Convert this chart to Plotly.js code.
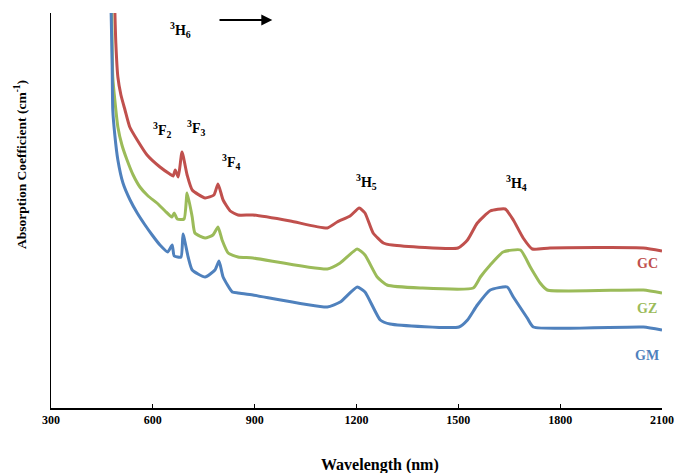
<!DOCTYPE html>
<html>
<head>
<meta charset="utf-8">
<script src="https://cdn.plot.ly/plotly-3.0.1.min.js"></script>
<style>html,body{margin:0;padding:0;background:#fff;}#chart{width:677px;height:473px;}</style>
</head>
<body>
<div id="chart"></div>
<script>
// Wavelength (nm) and absorption coefficient (arbitrary units)
const gcWavelength = [488,491,497,506,518,532,554,583,621,650,660,666,675,686,701,716,754,780,792,807,828,851,895,1005,1114,1143,1181,1208,1225,1249,1279,1305,1499,1527,1556,1594,1638,1662,1691,1718,1770,2045,2100];
const gcAbsorption = [40.0,36.7,33.3,31.5,30.0,28.3,27.0,25.5,24.3,23.6,23.4,24.0,23.3,25.8,23.5,22.0,21.2,21.5,22.6,21.0,19.9,19.5,19.5,18.9,18.2,18.8,19.4,20.2,19.7,17.7,16.7,16.5,16.2,17.0,18.7,19.9,20.1,19.0,17.2,16.1,16.2,16.2,15.9];

const gzWavelength = [479,482,488,497,509,524,542,562,586,612,636,656,663,672,692,701,716,724,754,777,792,804,822,851,895,1114,1152,1202,1225,1261,1290,1388,1544,1565,1594,1632,1683,1712,1741,1762,2045,2100];
const gzAbsorption = [40.0,33.3,31.0,28.3,26.5,25.0,23.5,22.3,21.4,20.7,19.9,19.3,19.7,19.1,19.1,21.7,19.3,17.7,17.2,17.5,18.3,17.0,15.7,15.3,15.2,14.1,14.7,16.1,15.5,13.3,12.5,12.2,12.2,13.3,14.5,15.8,16.0,14.3,12.7,12.0,12.0,11.7];

const gmWavelength = [477,480,482,488,497,512,533,554,577,598,621,644,657,663,683,689,704,716,754,783,795,807,834,851,895,1114,1152,1202,1225,1270,1299,1502,1527,1556,1594,1644,1662,1703,1721,2045,2100];
const gmAbsorption = [40.0,35.0,30.0,27.5,25.0,22.7,21.0,19.7,18.5,17.5,16.5,15.8,16.5,15.4,15.3,17.6,15.3,14.0,13.3,14.0,14.9,13.3,11.8,11.7,11.5,10.3,10.8,12.3,11.8,9.0,8.6,8.3,9.0,10.5,12.0,12.3,11.3,9.2,8.3,8.3,8.0];

const xTickValues = [300,600,900,1200,1500,1800,2100];
const seriesNames = ["GC","GZ","GM"];
const levelLabels = ["<sup>3</sup>H<sub>6</sub>","<sup>3</sup>F<sub>2</sub>","<sup>3</sup>F<sub>3</sub>","<sup>3</sup>F<sub>4</sub>","<sup>3</sup>H<sub>5</sub>","<sup>3</sup>H<sub>4</sub>"];
const levelX = [681,627,727,830,1228,1671];
const levelY = [38.0,28.0,28.2,24.8,22.8,22.7];

const colors = ["#C0504D","#9BBB59","#4F81BD"];
const serif = "Liberation Serif, Times New Roman, serif";

const traces = [
  {x: gcWavelength, y: gcAbsorption, name: seriesNames[0]},
  {x: gzWavelength, y: gzAbsorption, name: seriesNames[1]},
  {x: gmWavelength, y: gmAbsorption, name: seriesNames[2]}
].map((t,i)=>Object.assign(t,{type:"scatter",mode:"lines",line:{color:colors[i],width:3,shape:"spline",smoothing:0.5},hoverinfo:"skip"}));

const annotations = levelLabels.map((txt,i)=>({
  x: levelX[i], y: levelY[i], xref:"x", yref:"y", text: "<b>"+txt+"</b>", showarrow:false,
  font:{family:serif,size:14,color:"#000"}
}));
// arrow next to 3H6
annotations.push({x:952,y:39.0,ax:792,ay:39.0,axref:"x",ayref:"y",xref:"x",yref:"y",
  text:"",showarrow:true,arrowhead:2,arrowsize:1,arrowwidth:2.2,arrowcolor:"#000"});
// series labels
const seriesLabelY = [14.7,10.2,5.5];
seriesNames.forEach((n,i)=>annotations.push({x:2056,y:seriesLabelY[i],xref:"x",yref:"y",text:"<b>"+n+"</b>",showarrow:false,
  font:{family:serif,size:14,color:colors[i]}}));
// axis titles
annotations.push({x:0.5385,y:-0.1443,xref:"paper",yref:"paper",xanchor:"center",yanchor:"middle",showarrow:false,
  text:"<b>Wavelength (nm)</b>",font:{family:serif,size:16,color:"#000"}});
annotations.push({x:-0.0507,y:0.615,xref:"paper",yref:"paper",xanchor:"center",yanchor:"middle",showarrow:false,textangle:-90,
  text:"<b>Absorption Coefficient (cm<sup>-1</sup>)</b>",font:{family:serif,size:13.5,color:"#000"}});

const layout = {
  width:677, height:473,
  margin:{l:51,r:15,t:13,b:65},
  paper_bgcolor:"#fff", plot_bgcolor:"#fff",
  showlegend:false,
  font:{family:serif,color:"#000"},
  xaxis:{range:[300,2100], tickvals:xTickValues, ticktext:xTickValues.map(v=>"<b>"+v+"</b>"),
    showgrid:false, zeroline:false, showline:true, linecolor:"#000", linewidth:1.5,
    ticks:"inside", ticklen:4, tickcolor:"#000", tickwidth:1.2, ticklabeloverflow:"allow",
    tickfont:{family:serif,size:12,color:"#000"}},
  yaxis:{range:[0.2,39.7], showticklabels:false, ticks:"", showgrid:false, zeroline:false,
    showline:true, linecolor:"#000", linewidth:1.5},
  annotations: annotations
};

Plotly.newPlot("chart", traces, layout, {displayModeBar:false, staticPlot:true});
</script>
</body>
</html>
